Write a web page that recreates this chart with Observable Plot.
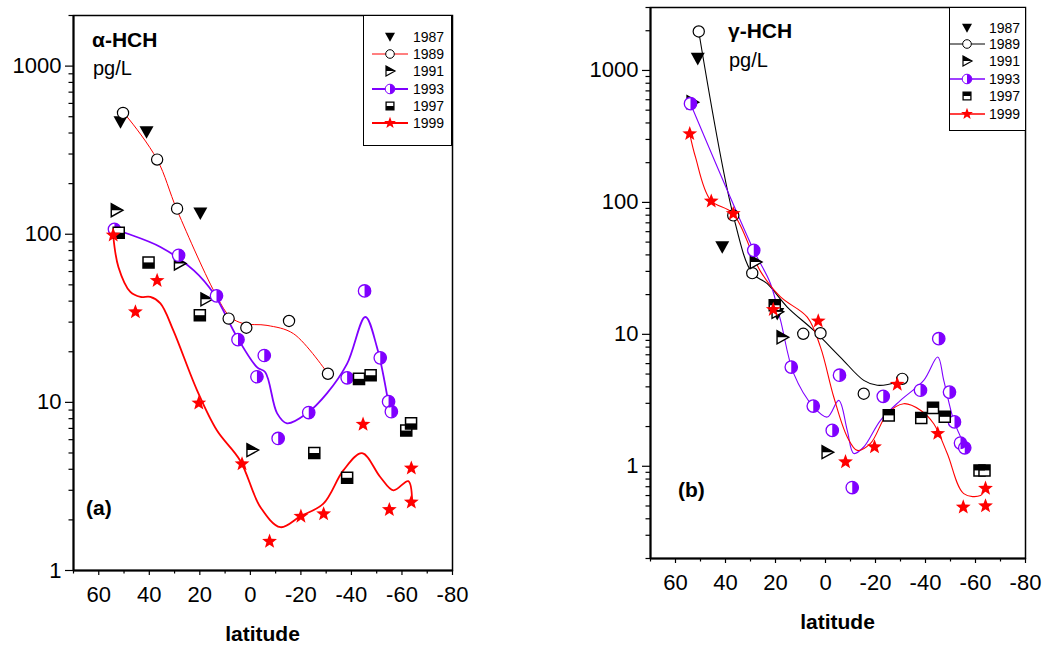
<!DOCTYPE html>
<html><head><meta charset="utf-8">
<script src="https://cdn.jsdelivr.net/npm/d3@7"></script>
<script src="https://cdn.jsdelivr.net/npm/@observablehq/plot@0.6"></script>
<style>
body{margin:0;background:#fff;font-family:"Liberation Sans",Arial,sans-serif;color:#000}
#wrap{position:relative;width:1045px;height:648px;overflow:hidden;background:#fff}
.panel{position:absolute;top:0}
.lab{position:absolute;line-height:1;white-space:nowrap}
.legend{position:absolute;box-sizing:border-box;border:1.5px solid #000;background:#fff}
.legend svg{position:absolute;left:-1.5px;top:-1.5px;overflow:visible}
</style></head>
<body><div id="wrap"></div>
<script>
// ---------------- data (latitude, pg/L) ----------------
const years = ["1987", "1989", "1991", "1993", "1997", "1999"];
const xMajorTicks = [60, 40, 20, 0, -20, -40, -60, -80];
const xMinorTicks = [70, 50, 30, 10, -10, -30, -50, -70];

// panel (a) alpha-HCH
const a1987 = [[51.4,464],[41.1,405],[19.8,133]];
const a1989 = [[50.4,527],[36.9,278],[29.0,142],[8.6,31.5],[1.6,27.8],[-15.3,30.5],[-30.7,14.8]];
const a1991 = [[53.0,139],[28.0,67],[17.5,41],[-0.7,5.2]];
const a1993 = [[53.8,107],[28.4,75],[13.4,43],[4.9,23.6],[-5.5,19.0],[-2.6,14.2],[-11.0,6.1],[-23.1,8.7],[-38.3,14.0],[-45.2,46],[-51.4,18.4],[-54.7,10.1],[-55.8,8.8]];
const a1997 = [[52.1,102],[40.3,68],[20.0,33],[-25.3,5.0],[-38.3,3.56],[-43.0,13.8],[-47.6,14.5],[-61.7,6.8],[-63.6,7.5]];
const a1999 = [[54.3,98.6],[45.5,34.5],[36.9,53],[20.4,9.9],[3.3,4.3],[-7.6,1.49],[-20.0,2.1],[-29.0,2.17],[-44.6,7.4],[-55.0,2.3],[-63.7,4.06],[-63.7,2.55]];
// fitted curves
const aFit1989 = [[50.4,527],[48.8,499],[36.9,278],[29.0,139],[13.2,42.4],[7.9,32.2],[2.7,29.4],[-6.6,28.7],[-17.1,25.6],[-30.7,14.8]];
const aFit1993 = [[53.8,107],[48.8,101],[35.6,84],[22.4,61],[14.5,44.4],[5.3,24.5],[-2.6,16.2],[-5.9,15.1],[-10.6,8.6],[-14.5,7.5],[-22.4,8.6],[-30.3,11.3],[-38.3,17.0],[-45.5,32.2],[-50.1,21.3],[-54.7,9.8]];
const aFit1999 = [[54.3,98.6],[52.2,63.7],[47.5,45.4],[43.5,42.4],[39.6,42.4],[35.6,38.8],[30.5,26.8],[21.1,11.8],[13.2,6.8],[4.0,4.5],[-4.0,2.38],[-11.9,1.81],[-19.8,2.1],[-28.9,2.5],[-36.8,3.94],[-44.2,4.99],[-51.4,3.6],[-56.6,3.0],[-62.5,3.4],[-64.0,2.6]];
const aYMajor = [1, 10, 100, 1000];

// panel (b) gamma-HCH
const b1987 = [[51.1,1227],[41.3,45.8],[19.3,14.3]];
const b1989 = [[50.7,1974],[36.9,79.7],[29.3,29.1],[8.9,10.1],[2.0,10.2],[-15.3,3.55],[-30.7,4.6]];
const b1991 = [[53.3,575],[28.0,35.3],[19.3,14.8],[17.3,9.5],[-0.7,1.28]];
const b1993 = [[54.0,560],[28.7,43.3],[13.7,5.65],[4.9,2.86],[-2.7,1.87],[-5.6,4.9],[-10.7,0.69],[-23.1,3.39],[-38.0,3.77],[-45.3,9.27],[-49.6,3.65],[-51.6,2.17],[-54.0,1.5],[-55.7,1.38]];
const b1997 = [[20.3,16.6],[-25.3,2.43],[-38.3,2.32],[-43.0,2.77],[-47.7,2.37],[-61.6,0.93],[-63.6,0.93]];
const b1999 = [[54.3,331],[45.7,102],[36.9,82],[20.9,15.4],[2.9,12.6],[-8.0,1.08],[-19.6,1.4],[-28.7,4.18],[-44.9,1.77],[-55.1,0.49],[-64.0,0.68],[-64.0,0.5]];
const bFit1989 = [[50.7,1974],[36.9,79.7],[29.3,29.1],[23.3,24.2],[15.3,16.1],[4.7,10.7],[-6.0,6.7],[-15.3,4.48],[-20.7,4.11],[-28.7,4.35],[-30.7,4.6]];
const bFit1993 = [[54.0,560],[28.7,43.3],[22.0,24.2],[18.0,12.8],[12.7,5.04],[4.7,2.81],[-0.7,2.36],[-5.3,3.16],[-8.7,1.87],[-11.3,1.25],[-15.3,1.4],[-22.0,2.23],[-30.0,3.16],[-39.3,4.48],[-44.9,6.73],[-47.3,4.48],[-51.3,2.23],[-55.3,1.49]];
const bFit1999 = [[54.3,331],[52.0,220],[46.0,104],[36.9,82],[26.0,30],[18.0,19.2],[7.3,13.5],[2.0,8.0],[-3.3,3.35],[-8.7,1.67],[-12.7,1.32],[-18.0,1.49],[-24.7,2.5],[-31.3,2.98],[-38.0,2.66],[-43.3,2.1],[-48.7,1.25],[-55.3,0.62],[-62.0,0.6],[-64.0,0.68]];
const bYMajor = [1, 10, 100, 1000];

// ---------------- styling ----------------
const RED = "#ff0000", PURPLE = "#7f00ff";
const FONT = "'Liberation Sans', Arial, sans-serif";

const sym = f => ({draw(c, size){ const r = Math.sqrt(size/Math.PI); f(c, r); }});
const downTri = sym((c,r)=>{c.moveTo(-r,-0.85*r);c.lineTo(r,-0.85*r);c.lineTo(0,0.95*r);c.closePath();});
const rightTri = sym((c,r)=>{c.moveTo(-0.8*r,-r);c.lineTo(-0.8*r,r);c.lineTo(r,0);c.closePath();});
const rightTriTop = sym((c,r)=>{c.moveTo(-0.8*r,-r);c.lineTo(r,0);c.lineTo(-0.8*r,0);c.closePath();});
const circleFull = sym((c,r)=>{c.moveTo(r,0);c.arc(0,0,r,0,2*Math.PI);c.closePath();});
const circleRight = sym((c,r)=>{c.moveTo(0,-r);c.arc(0,0,r,-Math.PI/2,Math.PI/2);c.closePath();});
const squareFull = sym((c,r)=>{c.rect(-0.85*r,-0.85*r,1.7*r,1.7*r);});
const squareBottom = sym((c,r)=>{c.rect(-0.85*r,0,1.7*r,0.85*r);});
const squareTop = sym((c,r)=>{c.rect(-0.85*r,-0.85*r,1.7*r,0.85*r);});
const star = sym((c,r)=>{
  for (let i = 0; i < 10; i++) {
    const a = -Math.PI/2 + i*Math.PI/5, rr = i % 2 ? r*0.42 : r;
    const px = rr*Math.cos(a), py = rr*Math.sin(a);
    i ? c.lineTo(px,py) : c.moveTo(px,py);
  }
  c.closePath();
});

const xy = {x: d => d[0], y: d => d[1]};

function markerMarks(kind, data, s, squareHalf) {
  switch (kind) {
    case "down": return [Plot.dot(data,{...xy, symbol:downTri, r:7*s, fill:"black", stroke:"none"})];
    case "open": return [Plot.dot(data,{...xy, symbol:circleFull, r:5.6*s, fill:"white", stroke:"black", strokeWidth:1.2})];
    case "right": return [Plot.dot(data,{...xy, symbol:rightTri, r:6.5*s, fill:"white", stroke:"black", strokeWidth:1.4}),
                          Plot.dot(data,{...xy, symbol:rightTriTop, r:6.5*s, fill:"black", stroke:"none"})];
    case "half": return [Plot.dot(data,{...xy, symbol:circleFull, r:6.2*s, fill:"white", stroke:PURPLE, strokeWidth:1.3}),
                         Plot.dot(data,{...xy, symbol:circleRight, r:6.2*s, fill:PURPLE, stroke:"none"})];
    case "square": return [Plot.dot(data,{...xy, symbol:squareFull, r:6.5*s, fill:"white", stroke:"black", strokeWidth:1.5}),
                           Plot.dot(data,{...xy, symbol:squareHalf, r:6.5*s, fill:"black", stroke:"none"})];
    case "star": return [Plot.dot(data,{...xy, symbol:star, r:7.8*s, fill:RED, stroke:"none"})];
  }
}

function panel(cfg) {
  const fits = cfg.fits.map(([data, stroke, w]) =>
    Plot.line(data, {...xy, curve:"catmull-rom", stroke, strokeWidth:w}));
  const kinds = ["down","open","right","half","square","star"];
  const dots = cfg.series.flatMap((data, i) => markerMarks(kinds[i], data, 1, cfg.squareHalf));
  const yMinor = [];
  for (let e = -1; e <= 3; e++) for (let k = 2; k <= 9; k++) {
    const v = k * Math.pow(10, e);
    if (v > cfg.yDomain[0] - 1e-9 && v < cfg.yDomain[1] + 1e-9) yMinor.push(+v.toPrecision(3));
  }
  return Plot.plot({
    width: cfg.width, height: cfg.height,
    marginLeft: cfg.ml, marginRight: cfg.mr, marginTop: cfg.mt, marginBottom: cfg.mb,
    style: {fontFamily: FONT, fontSize: "22px", background: "transparent", color: "#000", overflow: "visible"},
    x: {domain: [70, -80]},
    y: {type: "log", domain: cfg.yDomain},
    marks: [
      Plot.axisY({ticks: yMinor, tickSize: 4.5, tickFormat: () => "", label: null, strokeWidth: 1.2}),
      Plot.axisY({ticks: cfg.yMajor, tickSize: 8, tickPadding: 4, tickFormat: d => String(d), label: null, strokeWidth: 1.2, fontSize: 22}),
      Plot.axisX({ticks: xMinorTicks, tickSize: 3.5, tickFormat: () => "", label: null, strokeWidth: 1.2}),
      Plot.axisX({ticks: xMajorTicks, tickSize: 5, tickPadding: cfg.xpad, tickFormat: d => String(d), label: null, strokeWidth: 1.2, fontSize: 22}),
      ...fits,
      ...dots,
      Plot.frame({stroke: "black", strokeWidth: 1.5}),
      Plot.ruleX([70], {stroke: "black", strokeWidth: 2}),
      Plot.ruleY([cfg.yDomain[0]], {stroke: "black", strokeWidth: 2})
    ]
  });
}

const wrap = document.getElementById("wrap");
function place(el, left, top) { el.classList.add("panel"); el.style.left = left + "px"; el.style.top = top + "px"; wrap.appendChild(el); }

const plotA = panel({
  width: 480, height: 640, ml: 73, mr: 28, mt: 15, mb: 70,
  yDomain: [1, 2000], yMajor: aYMajor, xpad: 11,
  series: [a1987, a1989, a1991, a1993, a1997, a1999], squareHalf: squareBottom,
  fits: [[aFit1989, RED, 1], [aFit1993, PURPLE, 1.8], [aFit1999, RED, 1.8]]
});
place(plotA, 0, 0);

const plotB = panel({
  width: 485, height: 640, ml: 90, mr: 20, mt: 7, mb: 82,
  yDomain: [0.2, 3000], yMajor: bYMajor, xpad: 11,
  series: [b1987, b1989, b1991, b1993, b1997, b1999], squareHalf: squareTop,
  fits: [[bFit1989, "black", 1.1], [bFit1993, PURPLE, 1.1], [bFit1999, RED, 1.1]]
});
place(plotB, 560, 0);

// ---------------- labels ----------------
function label(text, left, top, size, bold, center) {
  const d = document.createElement("div");
  d.className = "lab"; d.textContent = text;
  d.style.left = left + "px"; d.style.top = top + "px";
  d.style.fontSize = size + "px"; d.style.fontWeight = bold ? "bold" : "normal";
  if (center) d.style.transform = "translateX(-50%)";
  wrap.appendChild(d);
}
label("α-HCH", 92, 29, 21, true);
label("pg/L", 93, 58, 20, false);
label("(a)", 86, 497, 21, true);
label("latitude", 262.5, 623, 21, true, true);
label("γ-HCH", 728, 20, 21, true);
label("pg/L", 729, 50, 20, false);
label("(b)", 678, 479, 21, true);
label("latitude", 837.5, 611, 21, true, true);

// ---------------- legends ----------------
function legend(left, top, w, h, x0, x1, xs, xt, ys, lineColors, squareHalf) {
  const box = document.createElement("div");
  box.className = "legend";
  Object.assign(box.style, {left: left+"px", top: top+"px", width: w+"px", height: h+"px"});
  wrap.appendChild(box);
  const svg = d3.select(box).append("svg").attr("width", w).attr("height", h);
  const defs = [
    [{t:downTri, r:5, fill:"black"}],
    [{t:circleFull, r:4.3, fill:"white", stroke:"black", sw:1}],
    [{t:rightTri, r:5, fill:"white", stroke:"black", sw:1.2}, {t:rightTriTop, r:5, fill:"black"}],
    [{t:circleFull, r:4.8, fill:"white", stroke:PURPLE, sw:1}, {t:circleRight, r:4.8, fill:PURPLE}],
    [{t:squareFull, r:4.6, fill:"white", stroke:"black", sw:1.3}, {t:squareHalf, r:4.6, fill:"black"}],
    [{t:star, r:6.2, fill:RED}]
  ];
  years.forEach((yr, i) => {
    const y = ys[i];
    if (lineColors[i]) svg.append("line").attr("x1", x0).attr("x2", x1).attr("y1", y).attr("y2", y)
      .attr("stroke", lineColors[i][0]).attr("stroke-width", lineColors[i][1]);
    defs[i].forEach(p => svg.append("path")
      .attr("d", d3.symbol(p.t, Math.PI*p.r*p.r)())
      .attr("transform", `translate(${xs},${y})`)
      .attr("fill", p.fill).attr("stroke", p.stroke || "none").attr("stroke-width", p.sw || 0));
    svg.append("text").attr("x", xt).attr("y", y).attr("dy", "0.36em")
      .attr("font-family", FONT).attr("font-size", 14).text(yr);
  });
}
legend(363, 15, 89, 131, 9, 45, 27, 50, [22, 39, 56, 74, 91, 108],
  [null, [RED, 1], null, [PURPLE, 2], null, [RED, 2]], squareBottom);
legend(949, 7, 77, 124, 1, 36, 18, 40, [21, 37, 54, 72, 89, 107],
  [null, ["black", 1], null, [PURPLE, 1.5], null, [RED, 1.5]], squareTop);
</script>
</body></html>
